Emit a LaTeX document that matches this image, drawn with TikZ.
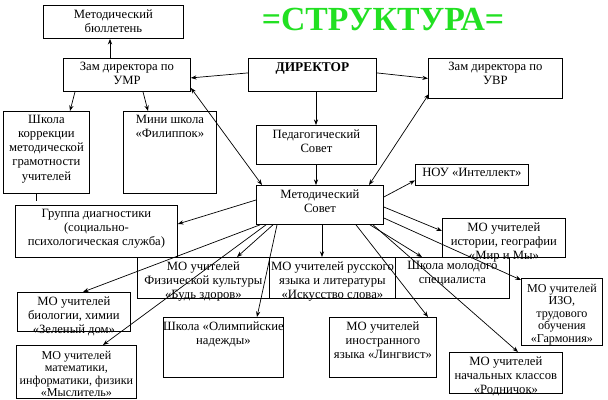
\documentclass[tikz,border=0pt]{standalone}
\usepackage{fontspec}
\setmainfont{Liberation Serif}
\usepackage{xcolor}
\usepackage{tikz}
\usetikzlibrary{arrows.meta}
\definecolor{titleGreen}{HTML}{22E022}
\definecolor{ink}{HTML}{000000}
\newlength\pxu
\setlength\pxu{0.025cm}
\tikzset{
  orgBox/.style={draw=ink, line width=0.6pt, anchor=north west, inner sep=0pt},
  boxTxt/.style={anchor=north, yshift=-2pt, align=center, inner sep=1pt, font=\fontsize{9}{10}\selectfont},
  tightTxt/.style={boxTxt, yshift=-1pt, font=\fontsize{8.6}{8.9}\selectfont},
  headTxt/.style={boxTxt, font=\fontsize{9.5}{11}\selectfont\bfseries},
  linkArrow/.style={draw=ink, line width=0.5pt, -{Stealth[length=4pt,width=3pt]}},
  twoWay/.style={linkArrow, {Stealth[length=4pt,width=3pt]}-{Stealth[length=4pt,width=3pt]}},
  titleLbl/.style={text=titleGreen, font=\fontsize{24}{26}\selectfont\bfseries},
}
% box: name, x, y, width, height, text
\newcommand{\OrgBox}[7][boxTxt]{%
  \node[orgBox, minimum width=#5*\pxu, minimum height=#6*\pxu,
        label={[#1]north:{#7}}] (#2) at (#3,#4) {};
}

\begin{document}
\begin{tikzpicture}[x=0.025cm, y=-0.025cm]
  \useasboundingbox (0,0) rectangle (608,400);

  \node[titleLbl] (title) at (383,19) {=СТРУКТУРА=};

  \OrgBox{bull}{43}{5}{140}{33}{Методический\\бюллетень}
  \OrgBox{umr}{63}{58}{127}{33}{Зам директора по\\УМР}
  \OrgBox[headTxt]{dir}{248}{58}{128}{33}{ДИРЕКТОР}
  \OrgBox{uvr}{428}{58}{134}{40}{Зам директора по\\УВР}
  \OrgBox{korr}{3}{111}{86}{82}{Школа\\коррекции\\методической\\грамотности\\учителей}
  \OrgBox{mini}{123}{111}{93}{82}{Мини школа\\«Филиппок»}
  \OrgBox{ped}{256}{125}{120}{39}{Педагогический\\Совет}
  \OrgBox{met}{256}{185}{127}{39}{Методический\\Совет}
  \OrgBox{nou}{415}{164}{113}{21}{НОУ «Интеллект»}
  \OrgBox{diag}{15}{205}{162}{52}{Группа диагностики\\(социально-\\психологическая служба)}
  \OrgBox{ist}{442}{218}{123}{39}{МО учителей\\истории, географии\\«Мир и Мы»}
  \OrgBox{fiz}{137}{257}{132}{41}{МО учителей\\Физической культуры\\«Будь здоров»}
  \OrgBox{rus}{269}{257}{126}{41}{МО учителей русского\\языка и литературы\\«Искусство слова»}
  \OrgBox{mol}{395}{257}{114}{41}{Школа молодого\\специалиста}
  \OrgBox[tightTxt]{izo}{521}{278}{81}{67}{МО учителей\\ИЗО,\\трудового\\обучения\\«Гармония»}
  \OrgBox{bio}{17}{292}{113}{39}{МО учителей\\биологии, химии\\«Зеленый дом»}
  \OrgBox{olim}{163}{317}{120}{60}{Школа «Олимпийские\\надежды»}
  \OrgBox{inos}{329}{317}{107}{60}{МО учителей\\иностранного\\языка «Лингвист»}
  \OrgBox[tightTxt]{mat}{16}{345}{120}{53}{МО учителей\\математики,\\информатики, физики\\«Мыслитель»}
  \OrgBox{nach}{449}{352}{113}{41}{МО учителей\\начальных классов\\«Родничок»}

  % top part
  \draw[linkArrow] ([shift={(47,0)}]umr.north west) -- ([shift={(67,0)}]bull.south west);
  \draw[linkArrow] ([shift={(0,-2)}]dir.west) -- ([shift={(0,3)}]umr.east);
  \draw[linkArrow] ([shift={(0,-2)}]dir.east) -- (uvr.west);
  \draw[linkArrow] ([shift={(68,0)}]dir.south west) -- ([shift={(60,0)}]ped.north west);
  \draw[linkArrow] ([shift={(60,0)}]ped.south west) -- ([shift={(60,0)}]met.north west);
  \draw[twoWay] ([shift={(0,-4)}]umr.south east) -- ([shift={(6,0)}]met.north west);
  \draw[twoWay] ([shift={(1,-5)}]uvr.south west) -- ([shift={(113,0)}]met.north west);
  \draw[linkArrow] ([shift={(12,0)}]umr.south west) -- ([shift={(67,0)}]korr.north west);
  \draw[linkArrow] ([shift={(80,0)}]umr.south west) -- ([shift={(25,0)}]mini.north west);
  \draw[ink, line width=0.6pt] ([shift={(33,0)}]korr.south west) -- ([shift={(21,-4)}]diag.north west);

  % from the Методический Совет
  \draw[linkArrow] ([shift={(0,12)}]met.north east) -- ([shift={(0,5.5)}]nou.west);
  \draw[linkArrow] ([shift={(0,15)}]met.north west) -- ([shift={(0,19)}]diag.north east);
  \draw[linkArrow] ([shift={(4,0)}]met.south west) -- ([shift={(66,0)}]bio.north west);
  \draw[linkArrow] ([shift={(10,0)}]met.south west) -- ([shift={(87,0)}]mat.north west);
  \draw[linkArrow] ([shift={(17,0)}]met.south west) -- ([shift={(100,0)}]fiz.north west);
  \draw[linkArrow] ([shift={(21,0)}]met.south west) -- ([shift={(94,0)}]olim.north west);
  \draw[linkArrow] ([shift={(66,0)}]met.south west) -- ([shift={(53,0)}]rus.north west);
  \draw[linkArrow] ([shift={(100,0)}]met.south west) -- ([shift={(99,0)}]inos.north west);
  \draw[linkArrow] ([shift={(114,0)}]met.south west) -- ([shift={(27,0)}]mol.north west);
  \draw[linkArrow] ([shift={(117,0)}]met.south west) -- ([shift={(69,0)}]nach.north west);
  \draw[linkArrow] ([shift={(0,22)}]met.north east) -- ([shift={(0,13)}]ist.north west);
  \draw[linkArrow] ([shift={(0,33)}]met.north east) -- ([shift={(0,2)}]izo.north west);
\end{tikzpicture}
\end{document}
